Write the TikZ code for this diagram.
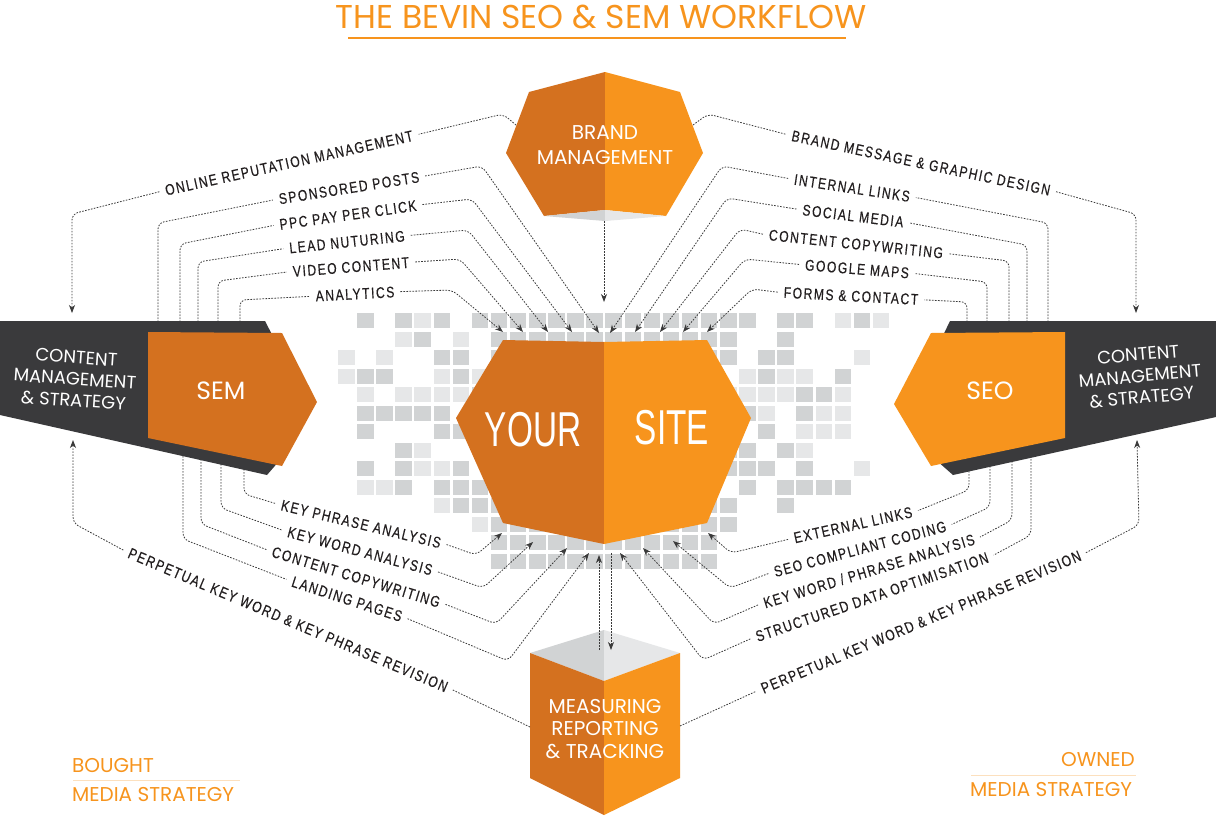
\documentclass[tikz,border=0pt]{standalone}
\usepackage{fontspec}
\usetikzlibrary{arrows.meta}
\newfontfamily\hfont{Poppins}
\newfontfamily\lfont[FakeStretch=0.78,LetterSpace=10,FakeBold=0.35]{Liberation Sans}
\newfontfamily\bfont[FakeStretch=0.68]{Liberation Sans}
\definecolor{orL}{HTML}{F7941D}
\definecolor{orD}{HTML}{D4711F}
\definecolor{dk}{HTML}{3A3A3C}
\definecolor{sqA}{HTML}{D1D3D4}
\definecolor{sqB}{HTML}{E6E7E8}
\definecolor{lnc}{HTML}{3A3A3A}
\definecolor{orPale}{HTML}{FCE0BE}
\definecolor{txt}{HTML}{231F20}
\tikzset{
 con/.style={draw=lnc, line width=0.8pt, dash pattern=on 1.6pt off 1.4pt, rounded corners=6pt},
 arr/.style={-{Stealth[length=8pt,width=6pt,inset=2.5pt]}},
 lab/.style={font=\lfont\fontsize{15.5}{18}\selectfont, text=txt, inner sep=6pt},
 head/.style={text=white, align=center, inner sep=0pt},
 corner/.style={font=\hfont\fontsize{20}{24}\selectfont, text=orL, inner sep=0pt},
}
\begin{document}
\begin{tikzpicture}[x=1pt,y=-1pt]
\useasboundingbox (0,0) rectangle (1216,815);
\fill[white] (0,0) rectangle (1216,815);

% ---------- title ----------
\node[font=\hfont\fontsize{33}{38}\selectfont, text=orL] (title) at (601,17) {THE BEVIN SEO \& SEM WORKFLOW};
\draw[orL, line width=1.3pt] (348,38) -- (846,38);

% ---------- pixel grid ----------
\pgfmathsetseed{11}
\foreach \i in {0,...,28}{
 \foreach \j in {0,...,13}{
  \pgfmathsetmacro\xx{338+19.1*\i}
  \pgfmathsetmacro\yy{313+18.5*\j}
  \pgfmathsetmacro\dd{abs(\xx+8-604)}
  \pgfmathsetmacro\p{\dd<115 ? 1 : 0.85-(\dd-115)/260}
  \pgfmathsetmacro\yl{\dd<115 ? 575 : 495+(256-\dd)*0.3}
  \pgfmathsetmacro\r{rnd}
  \pgfmathsetmacro\s{rnd}
  \pgfmathtruncatemacro\ok{((\r<\p)&&(\yy+15<\yl)) ? 1 : 0}
  \pgfmathtruncatemacro\cs{(\s<\p) ? 1 : 0}
  \ifnum\ok=1
    \ifnum\cs=1 \fill[sqA] (\xx,\yy) rectangle ++(16.5,15);
    \else \fill[sqB] (\xx,\yy) rectangle ++(16.5,15);\fi
  \fi
 }
}

% ---------- measuring box ----------
\fill[sqA] (530,653) -- (604,630) -- (604,681) -- cycle;
\fill[sqB] (604,630) -- (680,653) -- (604,681) -- cycle;
\fill[orD] (530,653) -- (604,681) -- (604,815) -- (530,778) -- cycle;
\fill[orL] (604,681) -- (680,653) -- (680,778) -- (604,815) -- cycle;
\node[head, font=\hfont\fontsize{20}{22.5}\selectfont] (mrt) at (605,729) {MEASURING\\REPORTING\\\& TRACKING};
\coordinate (mrtL) at (530,727);
\coordinate (mrtR) at (680,726);
\coordinate (mrtT1) at (599,650);
\coordinate (mrtT2) at (611,650);

% ---------- brand management ----------
\fill[orD] (605,72) -- (529,92) -- (506,153) -- (544,216) -- (605,210) -- cycle;
\fill[orL] (605,72) -- (680,92) -- (703,153) -- (666,216) -- (605,210) -- cycle;
\fill[sqA] (544,216) -- (605,210) -- (605,221) -- cycle;
\fill[sqB] (605,210) -- (666,216) -- (605,221) -- cycle;
\node[head, font=\hfont\fontsize{20}{25}\selectfont] (bm) at (605,145) {BRAND\\MANAGEMENT};
\coordinate (bmL) at (516,125);
\coordinate (bmR) at (693,125);
\coordinate (bmB) at (604,221);

% ---------- your site ----------
\fill[orD] (503,340) -- (604,342) -- (604,544) -- (503,523) -- (456,418) -- cycle;
\fill[orL] (604,342) -- (707,340) -- (751,418) -- (707,523) -- (604,544) -- cycle;
\node[text=white, font=\bfont\fontsize{49}{50}\selectfont, inner sep=0pt] (ys1) at (533,430) {YOUR};
\node[text=white, font=\bfont\fontsize{49}{50}\selectfont, inner sep=0pt] (ys2) at (672,428) {SITE};

% targets on your site
\coordinate (tA) at (503,332);
\coordinate (tV) at (523,332);
\coordinate (tL) at (548,332);
\coordinate (tP) at (572,332);
\coordinate (tS) at (599,333);
\coordinate (tB) at (604,302);
\coordinate (tI) at (610,333);
\coordinate (tSM) at (635,332);
\coordinate (tC) at (660,332);
\coordinate (tG) at (683,332);
\coordinate (tF) at (707,332);
\coordinate (bKP) at (502,533);
\coordinate (bKW) at (533,542);
\coordinate (bCC) at (567,548);
\coordinate (bLP) at (589,553);
\coordinate (bUp) at (599,555);
\coordinate (bDn) at (611,553);
\coordinate (bSD) at (620,553);
\coordinate (bKWP) at (643,548);
\coordinate (bSEO) at (673,541);
\coordinate (bEL) at (708,533);

% ---------- labels ----------
\node[lab, rotate=12.5] (orm) at (289,163) {ONLINE REPUTATION MANAGEMENT};
\node[lab, rotate=9] (sp) at (349,188) {SPONSORED POSTS};
\node[lab, rotate=8] (ppc) at (348,215) {PPC PAY PER CLICK};
\node[lab, rotate=6] (lead) at (347,242) {LEAD NUTURING};
\node[lab, rotate=4.5] (vid) at (351,267) {VIDEO CONTENT};
\node[lab, rotate=3] (ana) at (355,294) {ANALYTICS};

\node[lab, rotate=-12] (bmg) at (921,163) {BRAND MESSAGE \& GRAPHIC DESIGN};
\node[lab, rotate=-8.5] (il) at (852,188) {INTERNAL LINKS};
\node[lab, rotate=-7] (sm) at (853,216) {SOCIAL MEDIA};
\node[lab, rotate=-6] (cc) at (856,244) {CONTENT COPYWRITING};
\node[lab, rotate=-4.5] (gm) at (857,269) {GOOGLE MAPS};
\node[lab, rotate=-3] (fc) at (851,296) {FORMS \& CONTACT};

\node[lab, rotate=-13.5] (kpa) at (361,524) {KEY PHRASE ANALYSIS};
\node[lab, rotate=-15] (kwa) at (360,551) {KEY WORD ANALYSIS};
\node[lab, rotate=-17] (ccw) at (356,577) {CONTENT COPYWRITING};
\node[lab, rotate=-18] (lp) at (347,599) {LANDING PAGES};
\node[lab, rotate=-23] (pkl) at (288,620) {PERPETUAL KEY WORD \& KEY PHRASE REVISION};

\node[lab, rotate=12.5] (el) at (853,525) {EXTERNAL LINKS};
\node[lab, rotate=15] (seo) at (860,549) {SEO COMPLIANT CODING};
\node[lab, rotate=17] (kwp) at (869,571) {KEY WORD / PHRASE ANALYSIS};
\node[lab, rotate=19] (sdo) at (872,597) {STRUCTURED DATA OPTIMISATION};
\node[lab, rotate=22.8] (pkr) at (921,622) {PERPETUAL KEY WORD \& KEY PHRASE REVISION};

% ---------- connectors ----------
\draw[con] (bmL) -- (503,114) -- (orm.east);
\draw[con,arr] (orm.west) -- (72,214) -- (72,313);
\draw[con] (158,325) -- (158,223) -- (sp.west);
\draw[con,arr] (sp.east) -- (482,166) -- (tS);
\draw[con] (180,325) -- (180,244) -- (ppc.west);
\draw[con,arr] (ppc.east) -- (472,199) -- (tP);
\draw[con] (198,325) -- (198,262) -- (lead.west);
\draw[con,arr] (lead.east) -- (468,230) -- (tL);
\draw[con] (218,325) -- (218,281) -- (vid.west);
\draw[con,arr] (vid.east) -- (460,259) -- (tV);
\draw[con] (240,325) -- (240,300) -- (ana.west);
\draw[con,arr] (ana.east) -- (452,290) -- (tA);

\draw[con] (bmR) -- (708,114) -- (bmg.west);
\draw[con,arr] (bmg.east) -- (1136,214) -- (1136,313);
\draw[con] (1048,325) -- (1048,223) -- (il.east);
\draw[con,arr] (il.west) -- (722,166) -- (tI);
\draw[con] (1027,325) -- (1027,245) -- (sm.east);
\draw[con,arr] (sm.west) -- (727,198) -- (tSM);
\draw[con] (1009,325) -- (1009,261) -- (cc.east);
\draw[con,arr] (cc.west) -- (740,229) -- (tC);
\draw[con] (987,325) -- (987,282) -- (gm.east);
\draw[con,arr] (gm.west) -- (745,259) -- (tG);
\draw[con] (967,325) -- (967,302) -- (fc.east);
\draw[con,arr] (fc.west) -- (752,289) -- (tF);

\draw[con,arr] (bmB) -- (tB);

\draw[con] (244,460) -- (244,494) -- (kpa.west);
\draw[con,arr] (kpa.east) -- (476,555) -- (bKP);
\draw[con] (221,455) -- (221,508) -- (kwa.west);
\draw[con,arr] (kwa.east) -- (483,588) -- (bKW);
\draw[con] (201,450) -- (201,524) -- (ccw.west);
\draw[con,arr] (ccw.east) -- (496,624) -- (bCC);
\draw[con] (183,450) -- (183,539) -- (lp.west);
\draw[con,arr] (lp.east) -- (508,661) -- (bLP);
\draw[con] (mrtL) -- (pkl.east);
\draw[con,arr] (pkl.west) -- (73,523) -- (73,440);

\draw[con] (969,465) -- (969,490) -- (el.east);
\draw[con,arr] (el.west) -- (731,553) -- (bEL);
\draw[con] (990,460) -- (990,507) -- (seo.east);
\draw[con,arr] (seo.west) -- (730,588) -- (bSEO);
\draw[con] (1012,455) -- (1012,520) -- (kwp.east);
\draw[con,arr] (kwp.west) -- (714,624) -- (bKWP);
\draw[con] (1031,450) -- (1031,535) -- (sdo.east);
\draw[con,arr] (sdo.west) -- (703,660) -- (bSD);
\draw[con] (mrtR) -- (pkr.west);
\draw[con,arr] (pkr.east) -- (1139,525) -- (1137,440);

\draw[con,arr] (mrtT1) -- (bUp);
\draw[con,arr] (bDn) -- (mrtT2);

% ---------- SEM block ----------
\fill[dk] (0,321) -- (265,321) -- (280,350) -- (280,460) -- (267,475) -- (0,415) -- cycle;
\fill[orD] (148,332) -- (282,333) -- (317,402) -- (282,466) -- (148,438) -- cycle;
\node[head, font=\hfont\fontsize{18}{21.5}\selectfont, rotate=-4] (cmsL) at (75,379) {CONTENT\\MANAGEMENT\\\& STRATEGY};
\node[head, font=\hfont\fontsize{25}{30}\selectfont] (sem) at (221,391) {SEM};

% ---------- SEO block ----------
\fill[dk] (1216,321) -- (950,321) -- (936,350) -- (936,460) -- (953,475) -- (1216,417) -- cycle;
\fill[orL] (1065,332) -- (931,333) -- (894,404) -- (931,466) -- (1065,438) -- cycle;
\node[head, font=\hfont\fontsize{18}{21.5}\selectfont, rotate=5] (cmsR) at (1140,376) {CONTENT\\MANAGEMENT\\\& STRATEGY};
\node[head, font=\hfont\fontsize{25}{30}\selectfont] (seoh) at (990,391) {SEO};

% ---------- corner captions ----------
\node[corner, anchor=west] (bought) at (72,766) {BOUGHT};
\draw[orPale, line width=1pt] (73,780) -- (240,780);
\node[corner, anchor=west] (bms) at (72,794) {MEDIA STRATEGY};
\node[corner, anchor=east] (owned) at (1135,760) {OWNED};
\draw[orPale, line width=1pt] (971,775) -- (1136,775);
\node[corner, anchor=west] (oms) at (970,789) {MEDIA STRATEGY};
\end{tikzpicture}
\end{document}
